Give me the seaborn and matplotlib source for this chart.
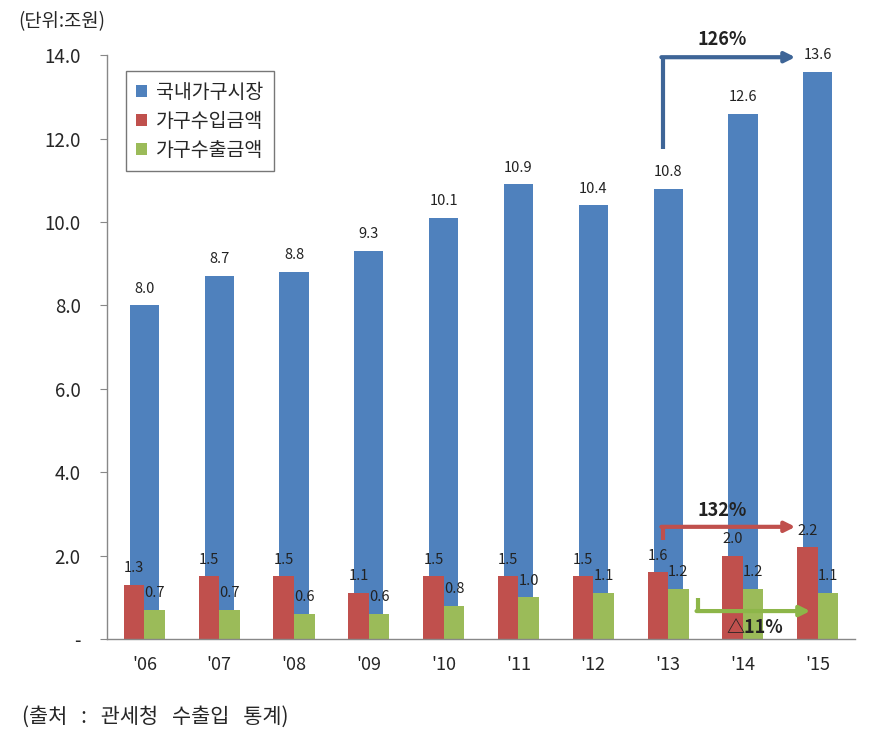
import pandas as pd
import numpy as np
import matplotlib
matplotlib.use('Agg')
import matplotlib.pyplot as plt
import seaborn as sns

# data
years = ["'06", "'07", "'08", "'09", "'10", "'11", "'12", "'13", "'14", "'15"]
market = [8.0, 8.7, 8.8, 9.3, 10.1, 10.9, 10.4, 10.8, 12.6, 13.6]
imports = [1.3, 1.5, 1.5, 1.1, 1.5, 1.5, 1.5, 1.6, 2.0, 2.2]
exports = [0.7, 0.7, 0.6, 0.6, 0.8, 1.0, 1.1, 1.2, 1.2, 1.1]
names = ['국내가구시장', '가구수입금액', '가구수출금액']
colors = ['#4F81BD', '#C0504D', '#9BBB59']

sns.set_style('white')
plt.rcParams['font.family'] = ['Noto Sans CJK KR', 'DejaVu Sans']

df_m = pd.DataFrame({'year': years, 'value': market})
df_ie = pd.DataFrame({
    'year': years * 2,
    'kind': [names[1]] * len(years) + [names[2]] * len(years),
    'value': imports + exports,
})

fig = plt.figure(figsize=(8.88, 7.35), dpi=100)
ax = fig.add_axes([0.1205, 0.1306, 0.8425, 0.7944])

sns.barplot(data=df_m, x='year', y='value', color=colors[0], width=0.39,
            saturation=1, label=names[0], ax=ax, order=years, linewidth=0, edgecolor='none')
sns.barplot(data=df_ie, x='year', y='value', hue='kind', hue_order=names[1:],
            palette=colors[1:], width=0.55, saturation=1, ax=ax, order=years,
            linewidth=0, edgecolor='none')

for c in ax.containers:
    ax.bar_label(c, fmt='%.1f', padding=7, fontsize=10.5, color='#222222')

ax.set_ylim(0, 14)
ax.set_xlim(-0.5, len(years) - 0.5)
ax.set_yticks(np.arange(0, 14.1, 2))
ax.set_yticklabels(['-' if v == 0 else '%.1f' % v for v in np.arange(0, 14.1, 2)], fontsize=13.5)
ax.set_xticks(range(len(years)))
ax.set_xticklabels(years, fontsize=13)
ax.set_xticks(np.arange(-0.5, len(years), 1), minor=True)
ax.tick_params(axis='x', which='major', length=0, pad=12)
ax.tick_params(axis='x', which='minor', length=6, color='#888888', direction='out')
ax.tick_params(axis='y', length=5, color='#888888', direction='out', left=True, pad=14)
ax.set_xlabel('')
ax.set_ylabel('')
for s in ['top', 'right']:
    ax.spines[s].set_visible(False)
for s in ['left', 'bottom']:
    ax.spines[s].set_color('#888888')
    ax.spines[s].set_linewidth(1)

# legend
h, l = ax.get_legend_handles_labels()
order = [l.index(n) for n in names]
leg = ax.legend([h[i] for i in order], [l[i] for i in order], loc='upper left',
                bbox_to_anchor=(0.025, 0.972), fontsize=14, frameon=True, fancybox=False,
                handlelength=0.55, handleheight=0.55, handletextpad=0.45,
                borderpad=0.55, labelspacing=0.4, borderaxespad=0)
leg.get_frame().set_edgecolor('#555555')
leg.get_frame().set_linewidth(1)
leg._legend_box.align = 'left'
for t in leg.get_texts():
    t.set_x(0)

# arrows
def bent_arrow(x0, y0, y1, x1, col):
    ax.plot([x0, x0], [y0, y1], color=col, lw=3, solid_capstyle='butt', clip_on=False)
    ax.annotate('', xy=(x1, y1), xytext=(x0 - 0.02, y1), annotation_clip=False,
                arrowprops=dict(arrowstyle='-|>', lw=3, color=col, mutation_scale=15,
                                shrinkA=0, shrinkB=0))

bent_arrow(6.93, 11.75, 13.95, 8.7, '#3E6597')
bent_arrow(6.93, 2.37, 2.69, 8.7, '#C0504D')
bent_arrow(7.4, 0.98, 0.67, 8.9, '#8DB649')

ax.text(7.72, 14.38, '126%', ha='center', va='center', fontsize=13, fontweight='bold',
        color='#222222', clip_on=False)
ax.text(7.72, 3.09, '132%', ha='center', va='center', fontsize=13, fontweight='bold', color='#222222')
ax.text(8.16, 0.27, '△11%', ha='center', va='center', fontsize=13, fontweight='bold', color='#222222')

fig.text(18 / 888, 1 - 22 / 735, '(단위:조원)', ha='left', va='center', fontsize=13.5)
fig.text(22 / 888, 1 - 717 / 735, '(출처   :   관세청   수출입   통계)', ha='left', va='center', fontsize=15)

fig.savefig('out.png', dpi=100)
